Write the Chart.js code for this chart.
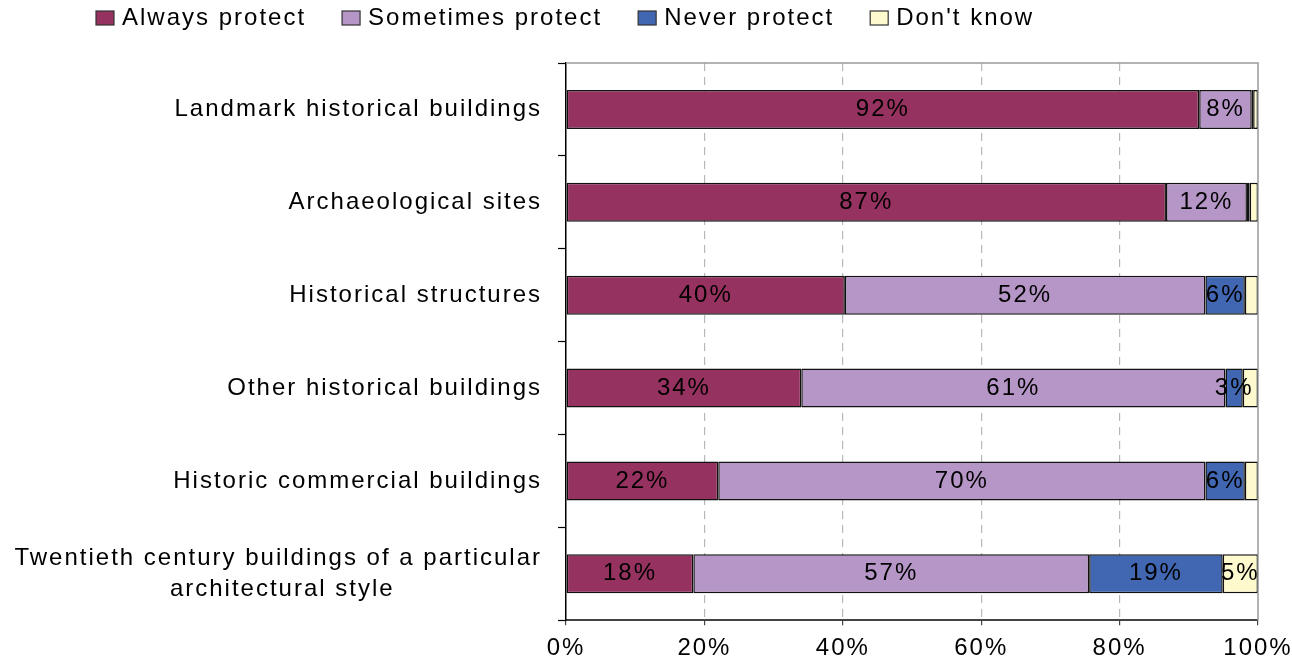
<!DOCTYPE html>
<html>
<head>
<meta charset="utf-8">
<title>Protection of historic buildings</title>
<script src="https://cdn.jsdelivr.net/npm/chart.js@4/dist/chart.umd.min.js"></script>
<style>
  html, body { margin: 0; padding: 0; background: #fff; }
  canvas { display: block; }
</style>
</head>
<body>
<canvas id="protectChart" width="1292" height="663"></canvas>
<script>
// Share of respondents per building type (percent, rows sum to 100)
const categories = [
    'Landmark historical buildings',
    'Archaeological sites',
    'Historical structures',
    'Other historical buildings',
    'Historic commercial buildings',
    ['Twentieth century buildings of a particular', 'architectural style']
];
const seriesNames = ['Always protect', 'Sometimes protect', 'Never protect', "Don't know"];
const alwaysProtect    = [91.5, 86.7, 40.3, 34.0, 22.0, 18.4];
const sometimesProtect = [7.6, 11.7, 52.1, 61.3, 70.4, 57.2];
const neverProtect     = [0.2, 0.4, 5.7, 2.5, 5.7, 19.3];
const dontKnow         = [0.7, 1.2, 1.9, 2.2, 1.9, 5.1];
const xTicks = [0, 20, 40, 60, 80, 100];

const colours = ['#96325F', '#B696C7', '#4267B2', '#FFFACD'];
const FONT_FAMILY = '"Liberation Sans", Arial, sans-serif';
const FONT_SIZE = 24;
const SPACING = '2px';

// centre the lines of a multi-line tick label: right-aligned text gets
// trailing spaces so the shorter lines sit under the middle of the widest
function centreLines(lines) {
    const m = document.createElement('canvas').getContext('2d');
    m.font = FONT_SIZE + 'px ' + FONT_FAMILY;
    m.letterSpacing = SPACING;
    const widths = lines.map(l => m.measureText(l).width);
    const widest = Math.max(...widths);
    const space = m.measureText(' ').width;
    return lines.map((l, i) => l + ' '.repeat(Math.round((widest - widths[i]) / 2 / space)));
}

const labels = categories.map(c => Array.isArray(c) ? centreLines(c) : c);

// letter spacing for every piece of text on the canvas
const spacingPlugin = {
    id: 'spacing',
    beforeUpdate(chart) { chart.ctx.letterSpacing = SPACING; },
    beforeDraw(chart) { chart.ctx.letterSpacing = SPACING; }
};

// percentage written in the middle of each segment
const segmentLabels = {
    id: 'segmentLabels',
    afterDatasetsDraw(chart) {
        const ctx = chart.ctx;
        ctx.save();
        ctx.font = FONT_SIZE + 'px ' + FONT_FAMILY;
        ctx.fillStyle = '#000';
        ctx.textAlign = 'center';
        ctx.textBaseline = 'middle';
        chart.data.datasets.forEach((ds, i) => {
            chart.getDatasetMeta(i).data.forEach((bar, j) => {
                const v = ds.data[j];
                if (v < 2.5) return;
                ctx.fillText(Math.round(v) + '%', (bar.x + bar.base) / 2, bar.y);
            });
        });
        ctx.restore();
    }
};

// grey frame on the top and right of the plot area
const plotFrame = {
    id: 'plotFrame',
    afterDraw(chart) {
        const {ctx, chartArea: a} = chart;
        ctx.save();
        ctx.strokeStyle = '#9a9a9a';
        ctx.lineWidth = 1.5;
        ctx.beginPath();
        ctx.moveTo(a.left, a.top);
        ctx.lineTo(a.right, a.top);
        ctx.lineTo(a.right, a.bottom);
        ctx.stroke();
        ctx.restore();
    }
};

// legend row across the top, left aligned
const topLegend = {
    id: 'topLegend',
    afterDraw(chart) {
        const ctx = chart.ctx;
        ctx.save();
        ctx.font = FONT_SIZE + 'px ' + FONT_FAMILY;
        ctx.textAlign = 'left';
        ctx.textBaseline = 'middle';
        let x = 96;
        const yMid = 18;
        chart.data.datasets.forEach(ds => {
            ctx.fillStyle = ds.backgroundColor;
            ctx.fillRect(x, yMid - 7, 18, 14);
            ctx.strokeStyle = '#333';
            ctx.lineWidth = 1.2;
            ctx.strokeRect(x, yMid - 7, 18, 14);
            ctx.fillStyle = '#000';
            ctx.fillText(ds.label, x + 26, yMid);
            x += 26 + ctx.measureText(ds.label).width + 36;
        });
        ctx.restore();
    }
};

const seriesData = [alwaysProtect, sometimesProtect, neverProtect, dontKnow];

new Chart(document.getElementById('protectChart'), {
    type: 'bar',
    data: {
        labels: labels,
        datasets: seriesNames.map((name, i) => ({
            label: name,
            data: seriesData[i],
            backgroundColor: colours[i],
            borderColor: '#111',
            borderWidth: 1.5,
            borderSkipped: false,
            categoryPercentage: 1,
            barPercentage: 0.42
        }))
    },
    options: {
        indexAxis: 'y',
        responsive: false,
        animation: false,
        layout: {
            padding: { top: 63, right: 34, bottom: -9, left: 0 }
        },
        scales: {
            x: {
                stacked: true,
                min: 0,
                max: 100,
                afterBuildTicks: scale => { scale.ticks = xTicks.map(v => ({ value: v })); },
                // the "100%" label may run into the right margin
                afterFit: scale => { scale.paddingRight = 0; },
                ticks: {
                    callback: v => v + '%',
                    color: '#000',
                    padding: 9,
                    font: { family: FONT_FAMILY, size: FONT_SIZE, lineHeight: 1.2 }
                },
                grid: {
                    color: ctx => (ctx.tick && (ctx.tick.value === 0 || ctx.tick.value === 100)) ? 'rgba(0,0,0,0)' : '#b8b8b8',
                    lineWidth: 1.2,
                    tickColor: '#444',
                    tickLength: 5,
                    tickBorderDash: []
                },
                border: { color: '#444', width: 2, dash: [8, 6] }
            },
            y: {
                stacked: true,
                afterFit: scale => { scale.width = 566; },
                ticks: {
                    color: '#000',
                    padding: 16,
                    font: { family: FONT_FAMILY, size: FONT_SIZE, lineHeight: 1.3 }
                },
                grid: {
                    offset: true,
                    drawOnChartArea: false,
                    tickLength: 8,
                    tickColor: '#000',
                    tickWidth: 1.2
                },
                border: { color: '#000', width: 1.5 }
            }
        },
        plugins: {
            legend: { display: false },
            tooltip: { enabled: false }
        }
    },
    plugins: [spacingPlugin, segmentLabels, plotFrame, topLegend]
});
</script>
</body>
</html>
